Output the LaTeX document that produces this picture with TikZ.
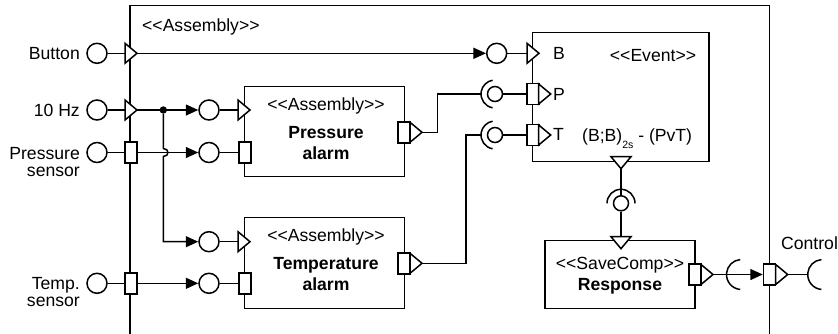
\documentclass[tikz,border=0pt]{standalone}
\usepackage{fontspec}
\setmainfont{Liberation Sans}
\usetikzlibrary{arrows.meta}
\newcommand{\stO}{<\kern0pt<}
\newcommand{\stC}{>\kern0pt>}
% right-pointing triangle port: left x, centre y, name
\newcommand{\mkTriR}[3]{%
  \draw[ptri] (#1,#2-10) -- (#1+12,#2) -- (#1,#2+10) -- cycle;
  \coordinate (#3) at (#1+12,#2);
  \coordinate (#3-in) at (#1,#2);}
% down-pointing triangle port: centre x, top y, name
\newcommand{\mkTriD}[3]{%
  \draw[ptri] (#1-10,#2) -- (#1+10,#2) -- (#1,#2+12) -- cycle;
  \coordinate (#3) at (#1,#2+12);
  \coordinate (#3-in) at (#1,#2);}
\tikzset{
  ln/.style={line width=1.5pt},
  boxst/.style={draw, line width=1.5pt, rectangle, inner sep=0pt, fill=white},
  ball/.style={draw, line width=1.5pt, circle, fill=white, inner sep=0pt, minimum size=20pt},
  sball/.style={draw, line width=1.5pt, circle, fill=white, inner sep=0pt, minimum size=15pt},
  prect/.style={draw, line width=1.5pt, rectangle, fill=white, inner sep=0pt, minimum width=12pt, minimum height=21pt},
  ptri/.style={draw, line width=1.5pt, fill=white, line join=miter},
  arr/.style={ln, -{Triangle[length=12.5pt,width=11pt]}},
  txt/.style={font=\fontsize{17.6}{17.4}\selectfont, inner sep=0pt},
  btxt/.style={font=\fontsize{17.6}{21.4}\selectfont\bfseries, inner sep=0pt},
}
\begin{document}
\begin{tikzpicture}[x=1pt,y=-1pt]
\useasboundingbox (0,0) rectangle (838,333);
\clip (0,0) rectangle (838,333);

% boxes
\node[boxst, minimum width=639.3pt, minimum height=344.3pt] (outer) at (449.65,177.85) {};
\node[boxst, minimum width=159.8pt, minimum height=90pt] (pa) at (324.4,131.7) {};
\node[boxst, minimum width=159.8pt, minimum height=90.6pt] (ta) at (324.4,263) {};
\node[boxst, minimum width=176.7pt, minimum height=129pt] (ev) at (620.65,96.8) {};
\node[boxst, minimum width=150pt, minimum height=67.6pt] (rs) at (620,274.5) {};

% texts
\node[txt, anchor=base west] (tA) at (142,31.7) {\stO Assembly\stC};
\node[txt, anchor=base] (paS) at (326,110) {\stO Assembly\stC};
\node[btxt, anchor=base] (paN) at (326,138.3) {\begin{tabular}[t]{@{}c@{}}Pressure\\alarm\end{tabular}};
\node[txt, anchor=base] (taS) at (326,241) {\stO Assembly\stC};
\node[btxt, anchor=base] (taN) at (326,269.3) {\begin{tabular}[t]{@{}c@{}}Temperature\\alarm\end{tabular}};
\node[txt, anchor=base] (rsS) at (620,269.3) {\stO SaveComp\stC};
\node[btxt, anchor=base] (rsN) at (620,290.7) {Response};
\node[txt, anchor=base] (evS) at (653,61.7) {\stO Event\stC};
\node[txt, anchor=base west] (lB) at (553,59.8) {B};
\node[txt, anchor=base west] (lP) at (553,100.5) {P};
\node[txt, anchor=base west] (lT) at (553,140.8) {T};
\node[txt, anchor=base west] (lF) at (582,141.5) {(B;B)\raisebox{-7pt}{\fontsize{10.5}{10.5}\selectfont 2s} - (PvT)};
\node[txt, anchor=base east] (lBut) at (80,59.3) {Button};
\node[txt, anchor=base east] (lHz) at (80,116.5) {10 Hz};
\node[txt, anchor=base east] (lPs) at (80,159) {\begin{tabular}[t]{@{}r@{}}Pressure\\sensor\end{tabular}};
\node[txt, anchor=base east] (lTs) at (80,289.5) {\begin{tabular}[t]{@{}r@{}}Temp.\\sensor\end{tabular}};
\node[txt, anchor=base west] (lC) at (781,249.3) {Control};

% triangle ports
\mkTriR{125}{53.3}{T0}
\mkTriR{125}{110}{T1}
\mkTriR{238}{110}{paT1}
\mkTriR{238}{241.7}{taT1}
\mkTriR{527}{53.3}{evB}

% rectangle ports
\node[prect] (oR2) at (131,152.5) {};
\node[prect] (oR3) at (131,283.3) {};
\node[prect] (paR2) at (245,152.5) {};
\node[prect] (taR2) at (245,283.3) {};
\node[prect] (paO) at (404,132.3) {};
\node[prect] (taO) at (404,263.3) {};
\node[prect] (evP) at (532.85,94) {};
\node[prect] (evT) at (532.85,135) {};
\node[prect] (rsO) at (695,274.5) {};
\node[prect] (oRc) at (769.5,274.5) {};
\mkTriR{410}{132.3}{paOt}
\mkTriR{410}{263.3}{taOt}
\mkTriR{538.7}{94}{evPt}
\mkTriR{538.7}{135}{evTt}
\mkTriR{701}{274.5}{rsOt}
\mkTriR{775.7}{274.5}{oCt}
\mkTriD{621}{156.7}{evD}
\mkTriD{621}{236.7}{rsD}

% balls
\node[ball] (in0) at (97,53.3) {};
\node[ball] (in1) at (97,110) {};
\node[ball] (in2) at (97,152.5) {};
\node[ball] (in3) at (97,283.3) {};
\node[ball] (m1) at (209,110) {};
\node[ball] (m2) at (209,152.5) {};
\node[ball] (m3) at (209,241.7) {};
\node[ball] (m4) at (209,283.3) {};
\node[ball] (bB) at (496.7,53.3) {};
\node[sball] (sP) at (495,94) {};
\node[sball] (sT) at (495,135) {};
\node[sball] (sE) at (621,203.3) {};
\node[circle, fill, inner sep=0pt, minimum size=7.4pt] (j) at (163.3,110) {};

% socket coordinates
\coordinate (sPl) at (481,94);
\coordinate (sTl) at (481,135);
\coordinate (rsk) at (741.5,274.5);
\coordinate (ctk) at (822.7,274.5);
\coordinate (ctlL) at (807.7,274.5);

% sockets
\draw[ln] (sP) ++(100:14) arc[start angle=100, end angle=260, radius=14];
\draw[ln] (sT) ++(100:14) arc[start angle=100, end angle=260, radius=14];
\draw[ln] (sE) ++(180:14) arc[start angle=180, end angle=360, radius=14];
\draw[ln] (rsk) ++(95:15) arc[start angle=95, end angle=265, radius=15];
\draw[ln] (ctk) ++(95:15) arc[start angle=95, end angle=265, radius=15];

% connectors
\draw[ln] (in0) -- (T0-in);
\draw[arr] (T0) -- (bB);
\draw[ln] (bB) -- (evB-in);
\draw[ln] (in1) -- (T1-in);
\draw[arr] (T1) -- (m1);
\draw[ln] (m1) -- (paT1-in);
\draw[arr] (j) -- (163.3,148.5) .. controls (169.5,148.5) and (169.5,156.5) .. (163.3,156.5) |- (m3);
\draw[ln] (m3) -- (taT1-in);
\draw[ln] (in2) -- (oR2);
\draw[arr] (oR2) -- (m2);
\draw[ln] (m2) -- (paR2);
\draw[ln] (in3) -- (oR3);
\draw[arr] (oR3) -- (m4);
\draw[ln] (m4) -- (taR2);
\draw[ln] (paOt) -- ++(15.6,0) |- (sPl);
\draw[ln] (taOt) -- ++(44,0) |- (sTl);
\draw[ln] (sP) -- (evP);
\draw[ln] (sT) -- (evT);
\draw[ln] (evD) -- (sE);
\draw[ln] (sE) -- (rsD-in);
\draw[arr] (rsOt) -- (oRc);
\draw[ln] (oCt) -- (ctlL);
\end{tikzpicture}
\end{document}
